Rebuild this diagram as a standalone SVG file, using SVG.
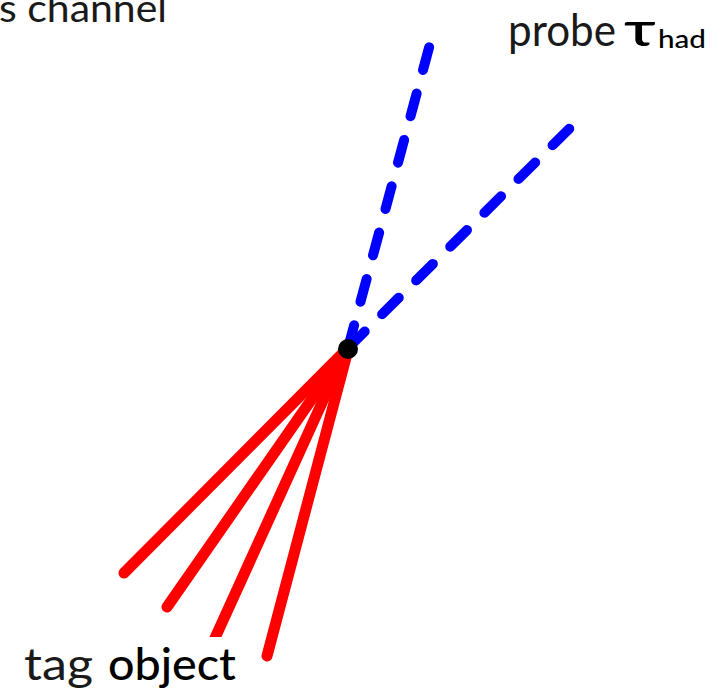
<svg xmlns="http://www.w3.org/2000/svg" width="725" height="693" viewBox="0 0 725 693">
<style>
.red{stroke:#ff0000;stroke-width:11;stroke-linecap:round;fill:none}
.blue{stroke:#0000ff;stroke-width:10;stroke-linecap:round;stroke-dasharray:23.5 24.5;fill:none}
.lt{font-family:"Lato","Open Sans","Liberation Sans",sans-serif;fill:#1a1a1a}
.bk{font-family:"Lato","Open Sans","Liberation Sans",sans-serif;fill:#000;font-weight:500}
</style>
<rect width="725" height="693" fill="#fff"/>
<g id="title"><text class="lt" x="-1" y="22" font-size="38" textLength="168" lengthAdjust="spacingAndGlyphs">s channel</text></g>
<g id="connectors">
<line class="blue" x1="348" y1="348" x2="430" y2="44"/>
<line class="blue" x1="348" y1="348" x2="573" y2="125"/>
<line class="red" x1="346" y1="350" x2="124" y2="573"/>
<line class="red" x1="346" y1="350" x2="167" y2="607"/>
<line class="red" x1="346" y1="350" x2="205" y2="660"/>
<line class="red" x1="348" y1="350" x2="267" y2="656"/>
</g>
<g id="vertex"><circle cx="348" cy="349" r="10" fill="#000"/></g>
<g id="probe">
<text x="508" y="46" class="lt" font-size="44" textLength="108" lengthAdjust="spacingAndGlyphs">probe</text>
<text x="624" y="46" class="bk" font-size="46" font-weight="400" textLength="32" lengthAdjust="spacingAndGlyphs">τ</text>
<text x="658" y="48" class="bk" font-size="25" textLength="48" lengthAdjust="spacingAndGlyphs">had</text>
</g>
<g id="tag">
<rect x="20" y="637" width="220" height="56" fill="#fff"/>
<text x="24" y="680" class="lt" font-size="44" textLength="69" lengthAdjust="spacingAndGlyphs">tag</text>
<text x="108" y="680" class="bk" font-size="44" textLength="128" lengthAdjust="spacingAndGlyphs">object</text>
</g>
</svg>
